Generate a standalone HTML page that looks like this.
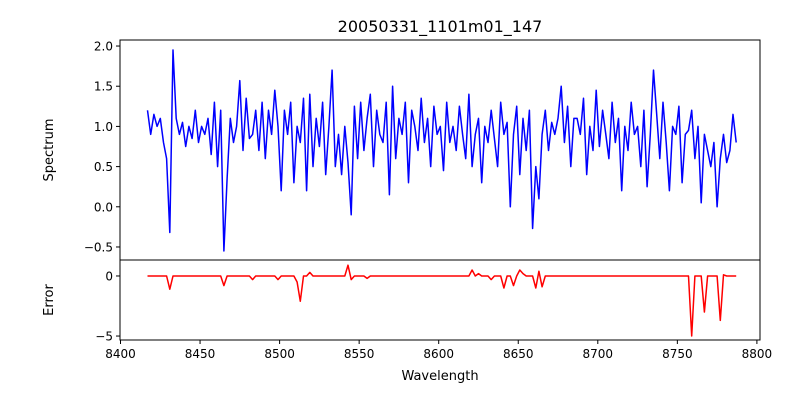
<!DOCTYPE html>
<html><head><meta charset="utf-8"><style>
body{margin:0;background:#fff;}
svg text{font-family:"DejaVu Sans","Liberation Sans",sans-serif;fill:#000;}
</style></head><body>
<svg id="c" width="800" height="400" viewBox="0 0 800 400" xmlns="http://www.w3.org/2000/svg">
<rect width="800" height="400" fill="#fff"/>
<text x="440" y="32" font-size="16" text-anchor="middle">20050331_1101m01_147</text>
<text x="440" y="380" font-size="13" text-anchor="middle">Wavelength</text>
<text transform="translate(53,150) rotate(-90)" font-size="13" text-anchor="middle">Spectrum</text>
<text transform="translate(53,300) rotate(-90)" font-size="13" text-anchor="middle">Error</text>
<g id="g"></g>
</svg>
<script>
const wlStart = 8417, wlStep = 2;
const spectrum = [
1.2,0.9,1.15,1.0,1.1,0.8,0.6,-0.32,1.95,1.1,
0.9,1.05,0.75,1.0,0.85,1.2,0.8,1.0,0.9,1.1,
0.65,1.3,0.5,1.2,-0.55,0.35,1.1,0.8,1.0,1.57,
0.7,1.35,0.85,0.9,1.2,0.7,1.3,0.6,1.2,0.9,
1.45,1.0,0.2,1.2,0.9,1.3,0.3,1.0,0.8,1.35,
0.2,1.4,0.5,1.1,0.75,1.3,0.4,1.0,1.7,0.5,
0.9,0.4,1.0,0.55,-0.1,1.25,0.6,1.3,0.7,1.1,
1.4,0.5,1.2,0.9,0.8,1.3,0.15,1.5,0.6,1.1,
0.9,1.3,0.3,1.2,1.0,0.7,1.35,0.8,1.1,0.5,
1.25,0.9,1.0,0.45,1.3,0.8,1.0,0.7,1.25,0.9,
0.6,1.4,0.5,0.9,1.1,0.3,1.0,0.8,1.2,0.85,
0.5,1.3,0.9,1.05,0.0,0.9,1.25,0.4,1.1,0.7,
1.2,-0.27,0.5,0.1,0.9,1.2,0.7,1.05,0.9,1.1,
1.5,0.8,1.25,0.5,1.1,1.1,0.9,1.35,0.4,1.0,
0.7,1.45,0.75,1.2,0.9,0.6,1.3,0.8,1.1,0.2,
1.0,0.7,1.3,0.9,1.0,0.5,1.2,0.25,0.9,1.7,
1.15,0.6,1.3,0.8,0.2,1.0,0.9,1.25,0.3,0.9,
0.95,1.2,0.6,1.0,0.05,0.9,0.7,0.5,0.8,0.0,
0.6,0.9,0.55,0.7,1.15,0.8];
const errWl = [8431,8465,8483,8499,8511,8513,8519,8543,8545,8555,8621,8625,8633,8641,8647,8651,8653,8661,8663,8665,8759,8767,8777,8779];
const errVal = [-1.1,-0.8,-0.3,-0.3,-0.5,-2.1,0.3,0.9,-0.3,-0.2,0.5,0.2,-0.3,-1.0,-0.8,0.5,0.2,-1.0,0.4,-0.9,-5.0,-3.0,-3.7,0.1];
const xTicks = [8400,8450,8500,8550,8600,8650,8700,8750,8800];
const yTicksTop = [-0.5,0.0,0.5,1.0,1.5,2.0];
const yTicksBot = [-5,0];

const NS="http://www.w3.org/2000/svg";
const g=document.getElementById('g');
const L=120,R=760,T1=40,B1=260,T2=260,B2=340;
const x=v=>120.5+(v-8400)*1.591;
const y1=v=>T1+(2.075-v)/(2.075+0.662)*(B1-T1);
const y2=v=>T2+(1.33-v)/(1.33+5.33)*(B2-T2);
function el(t,a){const e=document.createElementNS(NS,t);for(const k in a)e.setAttribute(k,a[k]);g.appendChild(e);return e;}

let d='';
spectrum.forEach((v,i)=>{d+=(i?'L':'M')+x(wlStart+i*wlStep).toFixed(1)+','+y1(v).toFixed(1);});
const p1=el('path',{d:d,fill:'none',stroke:'#0000ff','stroke-width':1.5,'stroke-linejoin':'round'});



const err=spectrum.map((_,i)=>{const w=wlStart+i*wlStep;const k=errWl.indexOf(w);return k>=0?errVal[k]:0;});
let d2='';
err.forEach((v,i)=>{d2+=(i?'L':'M')+x(wlStart+i*wlStep).toFixed(1)+','+y2(v).toFixed(1);});
const p2=el('path',{d:d2,fill:'none',stroke:'#ff0000','stroke-width':1.5,'stroke-linejoin':'round'});



const f1=el('rect',{x:L,y:T1,width:R-L,height:B1-T1,fill:'none',stroke:'#000','stroke-width':1});


const f2=el('rect',{x:L,y:T2,width:R-L,height:B2-T2,fill:'none',stroke:'#000','stroke-width':1});



xTicks.forEach(t=>{
  const xx=x(t);
  const tk=el('line',{x1:xx,x2:xx,y1:B2,y2:B2+4,stroke:'#000'});
  
  
  const tx=el('text',{x:xx,y:B2+18,'font-size':12,'text-anchor':'middle'});
  tx.textContent=t;
  
  
});
yTicksTop.forEach(t=>{
  const yy=y1(t);
  const tk=el('line',{x1:L-4,x2:L,y1:yy,y2:yy,stroke:'#000'});
  
  
  const tx=el('text',{x:L-7,y:yy+4.5,'font-size':12,'text-anchor':'end'});
  tx.textContent=t.toFixed(1).replace('-','\u2212');
  
  
});
yTicksBot.forEach(t=>{
  const yy=y2(t);
  const tk=el('line',{x1:L-4,x2:L,y1:yy,y2:yy,stroke:'#000'});
  
  
  const tx=el('text',{x:L-7,y:yy+4.5,'font-size':12,'text-anchor':'end'});
  tx.textContent=String(t).replace('-','\u2212');
  
  
});
</script>
</body></html>
